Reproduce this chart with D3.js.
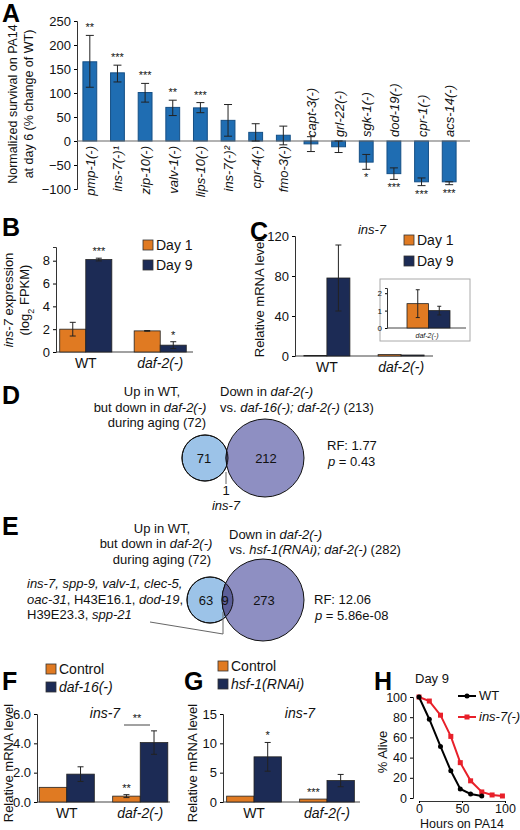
<!DOCTYPE html>
<html><head><meta charset="utf-8">
<script src="https://cdn.jsdelivr.net/npm/d3@7"></script>
<style>body{margin:0;background:#fff}svg{font-family:"Liberation Sans",Arial,sans-serif}</style>
</head><body><svg id="fig" width="520" height="830"></svg>
<script>
// ---- data ----
var aGenes = ["pmp-1(-)","ins-7(-)¹","zip-10(-)","valv-1(-)","lips-10(-)","ins-7(-)²","cpr-4(-)","fmo-3(-)","capt-3(-)","grl-22(-)","sgk-1(-)","dod-19(-)","cpr-1(-)","acs-14(-)"];
var aValues = [165,142,101,70,69,43,18,12,-6,-12,-44,-68,-85,-85];
var aLow = [112,123,81,53,59,10,0,-8,-22,-24,-59,-80,-93,-91];
var aHigh = [220,158,120,85,80,76,36,31,9,0,-28,-56,-77,-85];
var aStars = ["**","***","***","**","***","","","","","","*","***","***","***"];

var bGroups = ["WT","daf-2(-)"], bSeries = ["Day 1","Day 9"];
var bValues = [[2.0,8.1],[1.85,0.6]];
var bErr = [[0.6,0.12],[0.03,0.3]];
var bStars = [["","***"],["","*"]];

var cValues = [[0.5,78],[1.4,1.0]];
var cErr = [[0,33],[0,0]];
var cInset = [1.4,1.0], cInsetErr = [0.8,0.25];

var fSeries = ["Control","daf-16(-)"];
var fValues = [[1.0,1.9],[0.4,4.05]], fErr = [[0,0.5],[0.1,0.8]];
var fStars = [["",""],["**",""]];
var gSeries = ["Control","hsf-1(RNAi)"];
var gValues = [[1.0,7.7],[0.5,3.65]], gErr = [[0,2.45],[0,1.05]];
var gStars = [["","*"],["***",""]];

var hHours = [0,12,25,37,48,60,73,85,97];
var hWT = [100,78,51,27,9,4,2];
var hIns7 = [100,96,82,61,35,17,6,3,2];

var ORANGE = "#e07a22", NAVY = "#1c2b55", BLUE = "#1f6db2";
var svg = d3.select("#fig");

function letter(t, x, y) {
  svg.append("text").attr("x", x).attr("y", y).attr("font-size", 25).attr("font-weight", "bold").text(t);
}
function txt(g, x, y, parts, o) {
  o = o || {};
  var t = g.append("text").attr("x", x).attr("y", y).attr("font-size", o.size || 13)
    .attr("text-anchor", o.anchor || "start").attr("fill", "#111");
  if (o.rotate) t.attr("transform", "rotate(-90," + x + "," + y + ")");
  parts.forEach(function(p) {
    var s = t.append("tspan").text(p[0]);
    if (p[1]) s.attr("font-style", "italic");
    if (p[2]) s.attr("baseline-shift", "sub").attr("font-size", (o.size || 13) * 0.7);
  });
  return t;
}
function errbar(g, x, y1, y2, w) {
  g.append("line").attr("x1", x).attr("x2", x).attr("y1", y1).attr("y2", y2).attr("stroke", "#222");
  [y1, y2].forEach(function(y) {
    g.append("line").attr("x1", x - w).attr("x2", x + w).attr("y1", y).attr("y2", y).attr("stroke", "#222");
  });
}
function styleAxis(size) {
  return function(a) {
    a.selectAll("text").attr("font-size", size).attr("fill", "#111");
    a.select(".domain").attr("stroke", "#333");
  };
}

// ---- A ----
letter("A", 2, 22);
(function() {
  var y = d3.scaleLinear().domain([-100, 250]).range([189, 21]);
  var x = d3.scaleBand().domain(aGenes).range([76, 463]).paddingInner(0.5).paddingOuter(0.25);
  var g = svg.append("g");
  g.append("g").attr("transform", "translate(77,0)").call(d3.axisLeft(y).tickValues([-100,-50,0,50,100,150,200,250]).tickSize(3))
    .call(styleAxis(13));
  g.selectAll(".bar").data(aValues).join("rect")
    .attr("x", function(d, i){return x(aGenes[i]);}).attr("width", x.bandwidth())
    .attr("y", function(d){return y(Math.max(0, d));}).attr("height", function(d){return Math.abs(y(d) - y(0));})
    .attr("fill", BLUE).attr("stroke", "#154f85");
  g.append("line").attr("x1", 77).attr("x2", 470).attr("y1", y(0)).attr("y2", y(0)).attr("stroke", "#666").attr("stroke-width", 1.2);
  aValues.forEach(function(d, i) {
    var cx = x(aGenes[i]) + x.bandwidth() / 2;
    errbar(g, cx, y(aLow[i]), y(aHigh[i]), 4);
    if (aStars[i]) {
      var sy = d > 0 ? y(aHigh[i]) - 4 : y(aLow[i]) + 12;
      txt(g, cx, sy, [[aStars[i]]], {anchor: "middle", size: 11});
    }
    var lx = cx + 5;
    if (d > 0) txt(g, lx, y(0) + 5, [[aGenes[i], true]], {anchor: "end", rotate: true});
    else txt(g, lx, y(0) - 4, [[aGenes[i], true]], {anchor: "start", rotate: true});
  });
  txt(g, 17, 104, [["Normalized survival on PA14"]], {anchor: "middle", rotate: true, size: 12.5});
  txt(g, 33, 104, [["at day 6 (% change of WT)"]], {anchor: "middle", rotate: true, size: 12.5});
})();

// grouped bar helper
function grouped(o) {
  var g = svg.append("g");
  var y = d3.scaleLinear().domain(o.domain).range([o.y0, o.y1]);
  var x0 = d3.scaleBand().domain(bGroups).range([o.x0, o.x1]).paddingInner(o.pin).paddingOuter(o.pout);
  var x1 = d3.scaleBand().domain([0, 1]).range([0, x0.bandwidth()]);
  g.append("g").attr("transform", "translate(" + o.x0 + ",0)").call(d3.axisLeft(y).tickValues(o.ticks).tickSize(3))
    .call(styleAxis(13));
  g.append("line").attr("x1", o.x0).attr("x2", o.xend).attr("y1", o.y0).attr("y2", o.y0).attr("stroke", "#444").attr("stroke-width", 1.2);
  o.values.forEach(function(row, gi) {
    row.forEach(function(v, si) {
      var bx = x0(bGroups[gi]) + x1(si);
      g.append("rect").attr("x", bx).attr("width", x1.bandwidth()).attr("y", y(v)).attr("height", o.y0 - y(v))
        .attr("fill", si ? NAVY : ORANGE).attr("stroke", "#222").attr("stroke-width", 0.8);
      var e = o.err[gi][si], cx = bx + x1.bandwidth() / 2;
      if (e) errbar(g, cx, y(v - e), y(v + e), 3);
      var s = o.stars && o.stars[gi][si];
      if (s) txt(g, cx, y(v + e) - 3, [[s]], {anchor: "middle", size: 11});
    });
    txt(g, x0(bGroups[gi]) + x0.bandwidth() / 2, o.y0 + 16, [[bGroups[gi], gi === 1]], {anchor: "middle", size: 14});
  });
  return {g: g, x0: x0, x1: x1, y: y};
}
function legend(x, y, labels, italic2, gap) {
  labels.forEach(function(l, i) {
    svg.append("rect").attr("x", x).attr("y", y + i * gap - 10).attr("width", 10).attr("height", 10)
      .attr("fill", i ? NAVY : ORANGE).attr("stroke", "#333").attr("stroke-width", 0.8);
    txt(svg, x + 13, y + i * gap, [[l, i && italic2]], {size: 14});
  });
}

// ---- B ----
letter("B", 2, 236);
grouped({domain: [0, 9.2], ticks: [0,2,4,6,8], y0: 352, y1: 247, x0: 56, x1: 190, xend: 193, pin: 0.3, pout: 0.05, values: bValues, err: bErr, stars: bStars});
legend(143, 250, bSeries, false, 20);
txt(svg, 13, 300, [["ins-7", true], [" expression"]], {anchor: "middle", rotate: true});
txt(svg, 29, 300, [["(log"], ["2", false, true], [" FPKM)"]], {anchor: "middle", rotate: true});

// ---- C ----
letter("C", 250, 240);
grouped({domain: [0, 120], ticks: [0,40,80,120], y0: 356, y1: 236, x0: 295, x1: 433, xend: 433, pin: 0.38, pout: 0.12, values: cValues, err: cErr});
txt(svg, 372, 234, [["ins-7", true]], {anchor: "middle"});
legend(404, 245, bSeries, false, 21);
txt(svg, 264, 298, [["Relative mRNA level"]], {anchor: "middle", rotate: true});
(function() {
  svg.append("rect").attr("x", 380).attr("y", 279).attr("width", 90).attr("height", 62).attr("fill", "#fff").attr("stroke", "#aaa");
  var y = d3.scaleLinear().domain([0, 2.3]).range([328, 288]);
  var x = d3.scaleBand().domain([0, 1]).range([407, 450]);
  svg.append("g").attr("transform", "translate(387,0)").call(d3.axisLeft(y).tickValues([0,1,2]).tickFormat(d3.format("d")).tickSize(2))
    .call(styleAxis(8));
  svg.append("line").attr("x1", 387).attr("x2", 466).attr("y1", 328).attr("y2", 328).attr("stroke", "#444");
  cInset.forEach(function(v, i) {
    svg.append("rect").attr("x", x(i)).attr("width", x.bandwidth()).attr("y", y(v)).attr("height", 328 - y(v))
      .attr("fill", i ? NAVY : ORANGE).attr("stroke", "#222").attr("stroke-width", 0.8);
    errbar(svg, x(i) + x.bandwidth() / 2, y(v - cInsetErr[i]), y(v + cInsetErr[i]), 2);
  });
  txt(svg, 427, 338, [["daf-2(-)", true]], {anchor: "middle", size: 7});
})();

// ---- venn helper ----
function venn(o) {
  var g = svg.append("g");
  g.append("circle").attr("cx", o.c1[0]).attr("cy", o.c1[1]).attr("r", o.r1).attr("fill", "#9cc3e8").attr("stroke", "#111");
  g.append("circle").attr("cx", o.c2[0]).attr("cy", o.c2[1]).attr("r", o.r2).attr("fill", "#8e8fc2").attr("stroke", "#111");
  var id = "clip" + o.id;
  g.append("clipPath").attr("id", id).append("circle").attr("cx", o.c1[0]).attr("cy", o.c1[1]).attr("r", o.r1);
  g.append("circle").attr("cx", o.c2[0]).attr("cy", o.c2[1]).attr("r", o.r2).attr("fill", "#5c5f98").attr("stroke", "#111").attr("clip-path", "url(#" + id + ")");
  g.append("circle").attr("cx", o.c1[0]).attr("cy", o.c1[1]).attr("r", o.r1).attr("fill", "none").attr("stroke", "#111");
  o.nums.forEach(function(n) { txt(g, n[0], n[1], [[n[2]]], {anchor: "middle", size: 13}); });
  return g;
}

// ---- D ----
letter("D", 2, 404);
[["Up in WT,", 152, 396, []], ["but down in ", 150, 412, [["daf-2(-)", true]]], ["during aging (72)", 157, 427, []]].forEach(function(l) {
  txt(svg, l[1], l[2], [[l[0]]].concat(l[3]), {anchor: "middle"});
});
txt(svg, 220, 396, [["Down in "], ["daf-2(-)", true]]);
txt(svg, 220, 412, [["vs. "], ["daf-16(-); daf-2(-)", true], [" (213)"]]);
venn({id: "d", c1: [205, 458], r1: 23, c2: [265, 458], r2: 39, nums: [[204, 463, "71"], [266, 463, "212"]]});
svg.append("line").attr("x1", 226).attr("x2", 226).attr("y1", 472).attr("y2", 484).attr("stroke", "#666");
txt(svg, 226, 495, [["1"]], {anchor: "middle"});
txt(svg, 226, 510, [["ins-7", true]], {anchor: "middle"});
txt(svg, 327, 450, [["RF: 1.77"]]);
txt(svg, 328, 466, [["p", true], [" = 0.43"]]);

// ---- E ----
letter("E", 2, 535);
[["Up in WT,", 162, 533, []], ["but down in ", 156, 548, [["daf-2(-)", true]]], ["during aging (72)", 162, 564, []]].forEach(function(l) {
  txt(svg, l[1], l[2], [[l[0]]].concat(l[3]), {anchor: "middle"});
});
txt(svg, 229, 539, [["Down in "], ["daf-2(-)", true]]);
txt(svg, 229, 554, [["vs. "], ["hsf-1(RNAi); daf-2(-)", true], [" (282)"]]);
venn({id: "e", c1: [210, 600], r1: 23, c2: [263, 600], r2: 41, nums: [[206, 605, "63"], [225, 605, "9"], [264, 605, "273"]]});
txt(svg, 27, 588, [["ins-7, spp-9, valv-1, clec-5,", true]]);
txt(svg, 27, 604, [["oac-31", true], [", H43E16.1, "], ["dod-19", true], [","]]);
txt(svg, 27, 619, [["H39E23.3, "], ["spp-21", true]]);
svg.append("polyline").attr("points", "150,622 223,634 223,612").attr("fill", "none").attr("stroke", "#666");
txt(svg, 314, 604, [["RF: 12.06"]]);
txt(svg, 315, 620, [["p", true], [" = 5.86e-08"]]);

// ---- F ----
letter("F", 2, 690);
grouped({domain: [0, 6], ticks: [0,2,4,6], y0: 802, y1: 714, x0: 37, x1: 170, xend: 170, pin: 0.25, pout: 0.03, values: fValues, err: fErr, stars: fStars});
legend(46, 674, fSeries, true, 18);
txt(svg, 105, 718, [["ins-7", true]], {anchor: "middle", size: 14});
svg.append("line").attr("x1", 124).attr("x2", 150).attr("y1", 725).attr("y2", 725).attr("stroke", "#444");
txt(svg, 137, 722, [["**"]], {anchor: "middle", size: 11});
txt(svg, 13, 763, [["Relative mRNA level"]], {anchor: "middle", rotate: true, size: 13});

// ---- G ----
letter("G", 184, 690);
grouped({domain: [0, 15], ticks: [0,5,10,15], y0: 802, y1: 714, x0: 223, x1: 358, xend: 360, pin: 0.25, pout: 0.05, values: gValues, err: gErr, stars: gStars});
legend(218, 671, gSeries, true, 18);
txt(svg, 300, 718, [["ins-7", true]], {anchor: "middle", size: 14});
txt(svg, 197, 763, [["Relative mRNA level"]], {anchor: "middle", rotate: true, size: 13});

// ---- H ----
letter("H", 374, 690);
(function() {
  var x = d3.scaleLinear().domain([0, 100]).range([419, 505]);
  var y = d3.scaleLinear().domain([0, 100]).range([798, 697]);
  svg.append("g").attr("transform", "translate(413,0)").call(d3.axisLeft(y).tickValues([0,20,40,60,80,100]).tickSize(3))
    .call(styleAxis(12.5));
  svg.append("g").attr("transform", "translate(0,801)").call(d3.axisBottom(x).tickValues([0,50,100]).tickSize(2).tickPadding(1))
    .call(styleAxis(12.5));
  var line = d3.line().x(function(d, i){return x(hHours[i]);}).y(function(d){return y(d);});
  svg.append("path").datum(hIns7).attr("d", line).attr("fill", "none").attr("stroke", "#e8202a").attr("stroke-width", 2);
  svg.selectAll(".sq").data(hIns7).join("rect").attr("x", function(d, i){return x(hHours[i]) - 2.5;}).attr("y", function(d){return y(d) - 2.5;})
    .attr("width", 5).attr("height", 5).attr("fill", "#e8202a");
  svg.append("path").datum(hWT).attr("d", line).attr("fill", "none").attr("stroke", "#000").attr("stroke-width", 2);
  svg.selectAll(".dot").data(hWT).join("circle").attr("cx", function(d, i){return x(hHours[i]);}).attr("cy", function(d){return y(d);})
    .attr("r", 2.5).attr("fill", "#000");
  txt(svg, 415, 683, [["Day 9"]]);
  svg.append("line").attr("x1", 458).attr("x2", 476).attr("y1", 696).attr("y2", 696).attr("stroke", "#000").attr("stroke-width", 2);
  svg.append("circle").attr("cx", 467).attr("cy", 696).attr("r", 2.5);
  txt(svg, 479, 700, [["WT"]]);
  svg.append("line").attr("x1", 458).attr("x2", 476).attr("y1", 717).attr("y2", 717).attr("stroke", "#e8202a").attr("stroke-width", 2);
  svg.append("rect").attr("x", 464.5).attr("y", 714.5).attr("width", 5).attr("height", 5).attr("fill", "#e8202a");
  txt(svg, 479, 721, [["ins-7(-)", true]]);
  txt(svg, 387, 752, [["% Alive"]], {anchor: "middle", rotate: true, size: 13});
  txt(svg, 462, 828, [["Hours on PA14"]], {anchor: "middle", size: 12.5});
})();
</script></body></html>
